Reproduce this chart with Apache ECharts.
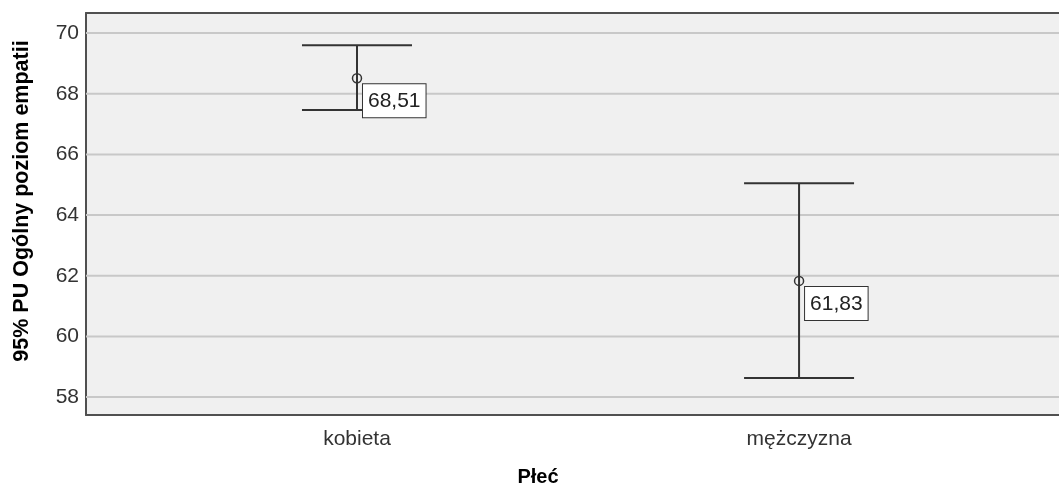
<!DOCTYPE html>
<html><head><meta charset="utf-8">
<script src="https://cdn.jsdelivr.net/npm/echarts@6/dist/echarts.min.js"></script>
<style>html,body{margin:0;padding:0;background:#fff}#c{width:1059px;height:491px}</style>
</head><body><div id="c"></div>
<script>
const categories = ['kobieta', 'mężczyzna'];
const means = [68.51, 61.83];
const lowerCI = [67.46, 58.63];
const upperCI = [69.6, 65.05];
const yTicks = [58, 60, 62, 64, 66, 68, 70];

const data = categories.map((c, i) => [i, means[i], lowerCI[i], upperCI[i]]);
const fmt = v => v.toFixed(2).replace('.', ',');
const FF = '"Liberation Sans", Arial, sans-serif';
const XMIN = -0.613, XMAX = 1.588;

const chart = echarts.init(document.getElementById('c'));
chart.setOption({
  animation: false,
  backgroundColor: '#fff',
  grid: { left: 86, top: 13, right: 0, bottom: 76, show: true, backgroundColor: '#f0f0f0', borderWidth: 0 },
  xAxis: [{
    type: 'value', min: XMIN, max: XMAX, position: 'bottom',
    axisLine: { show: true, onZero: false, lineStyle: { color: '#505050', width: 2 } },
    axisTick: { show: false }, splitLine: { show: false },
    axisLabel: { customValues: [0, 1], formatter: v => categories[Math.round(v)], fontFamily: FF, fontSize: 21, color: '#333', margin: 14 }
  }, {
    type: 'value', min: XMIN, max: XMAX, position: 'top',
    axisLine: { show: true, onZero: false, lineStyle: { color: '#505050', width: 2 } },
    axisTick: { show: false }, splitLine: { show: false }, axisLabel: { show: false }
  }],
  yAxis: {
    type: 'value', min: 57.41, max: 70.66,
    axisLine: { show: true, onZero: false, lineStyle: { color: '#505050', width: 2 } },
    axisTick: { show: false, customValues: yTicks },
    axisLabel: { customValues: yTicks, fontFamily: FF, fontSize: 21, color: '#333', margin: 7 },
    splitLine: { show: false }
  },
  graphic: [
    { type: 'text', x: 538, y: 477, style: { text: 'Płeć', font: 'bold 20px ' + FF, fill: '#000', align: 'center', verticalAlign: 'middle' } },
    { type: 'text', x: 22, y: 201, rotation: Math.PI / 2, style: { text: '95% PU Ogólny poziom empatii', font: 'bold 21.5px ' + FF, fill: '#000', align: 'center', verticalAlign: 'middle' } }
  ],
  series: [
    {
      type: 'custom',
      data: yTicks.map(t => [t]),
      renderItem: (params, api) => {
        const p = api.coord([XMIN, api.value(0)]);
        const q = api.coord([XMAX, api.value(0)]);
        return { type: 'line', shape: { x1: p[0], y1: p[1], x2: q[0], y2: q[1] }, style: { stroke: '#c8c8c8', lineWidth: 2 } };
      },
      z: 1
    },
    {
      type: 'custom',
      data: data,
      encode: { x: 0, y: [1, 2, 3] },
      z: 5,
      renderItem: (params, api) => {
        const xi = api.value(0);
        const m = api.coord([xi, api.value(1)]);
        const lo = api.coord([xi, api.value(2)]);
        const hi = api.coord([xi, api.value(3)]);
        const hw = 55;
        const st = { stroke: '#333', lineWidth: 2 };
        return {
          type: 'group',
          children: [
            { type: 'line', shape: { x1: m[0], y1: hi[1], x2: m[0], y2: lo[1] }, style: st },
            { type: 'line', shape: { x1: m[0] - hw, y1: hi[1], x2: m[0] + hw, y2: hi[1] }, style: st },
            { type: 'line', shape: { x1: m[0] - hw, y1: lo[1], x2: m[0] + hw, y2: lo[1] }, style: st },
            { type: 'circle', shape: { cx: m[0], cy: m[1], r: 4.5 }, style: { fill: 'none', stroke: '#333', lineWidth: 1.5 } },
            { type: 'text', x: m[0] + 6, y: m[1] + 6, z2: 10, style: { text: fmt(api.value(1)), font: '21px ' + FF, lineHeight: 22, fill: '#222', backgroundColor: '#fff', borderColor: '#333', borderWidth: 1, padding: [6, 5, 5, 5] } }
          ]
        };
      }
    }
  ]
});
</script></body></html>
